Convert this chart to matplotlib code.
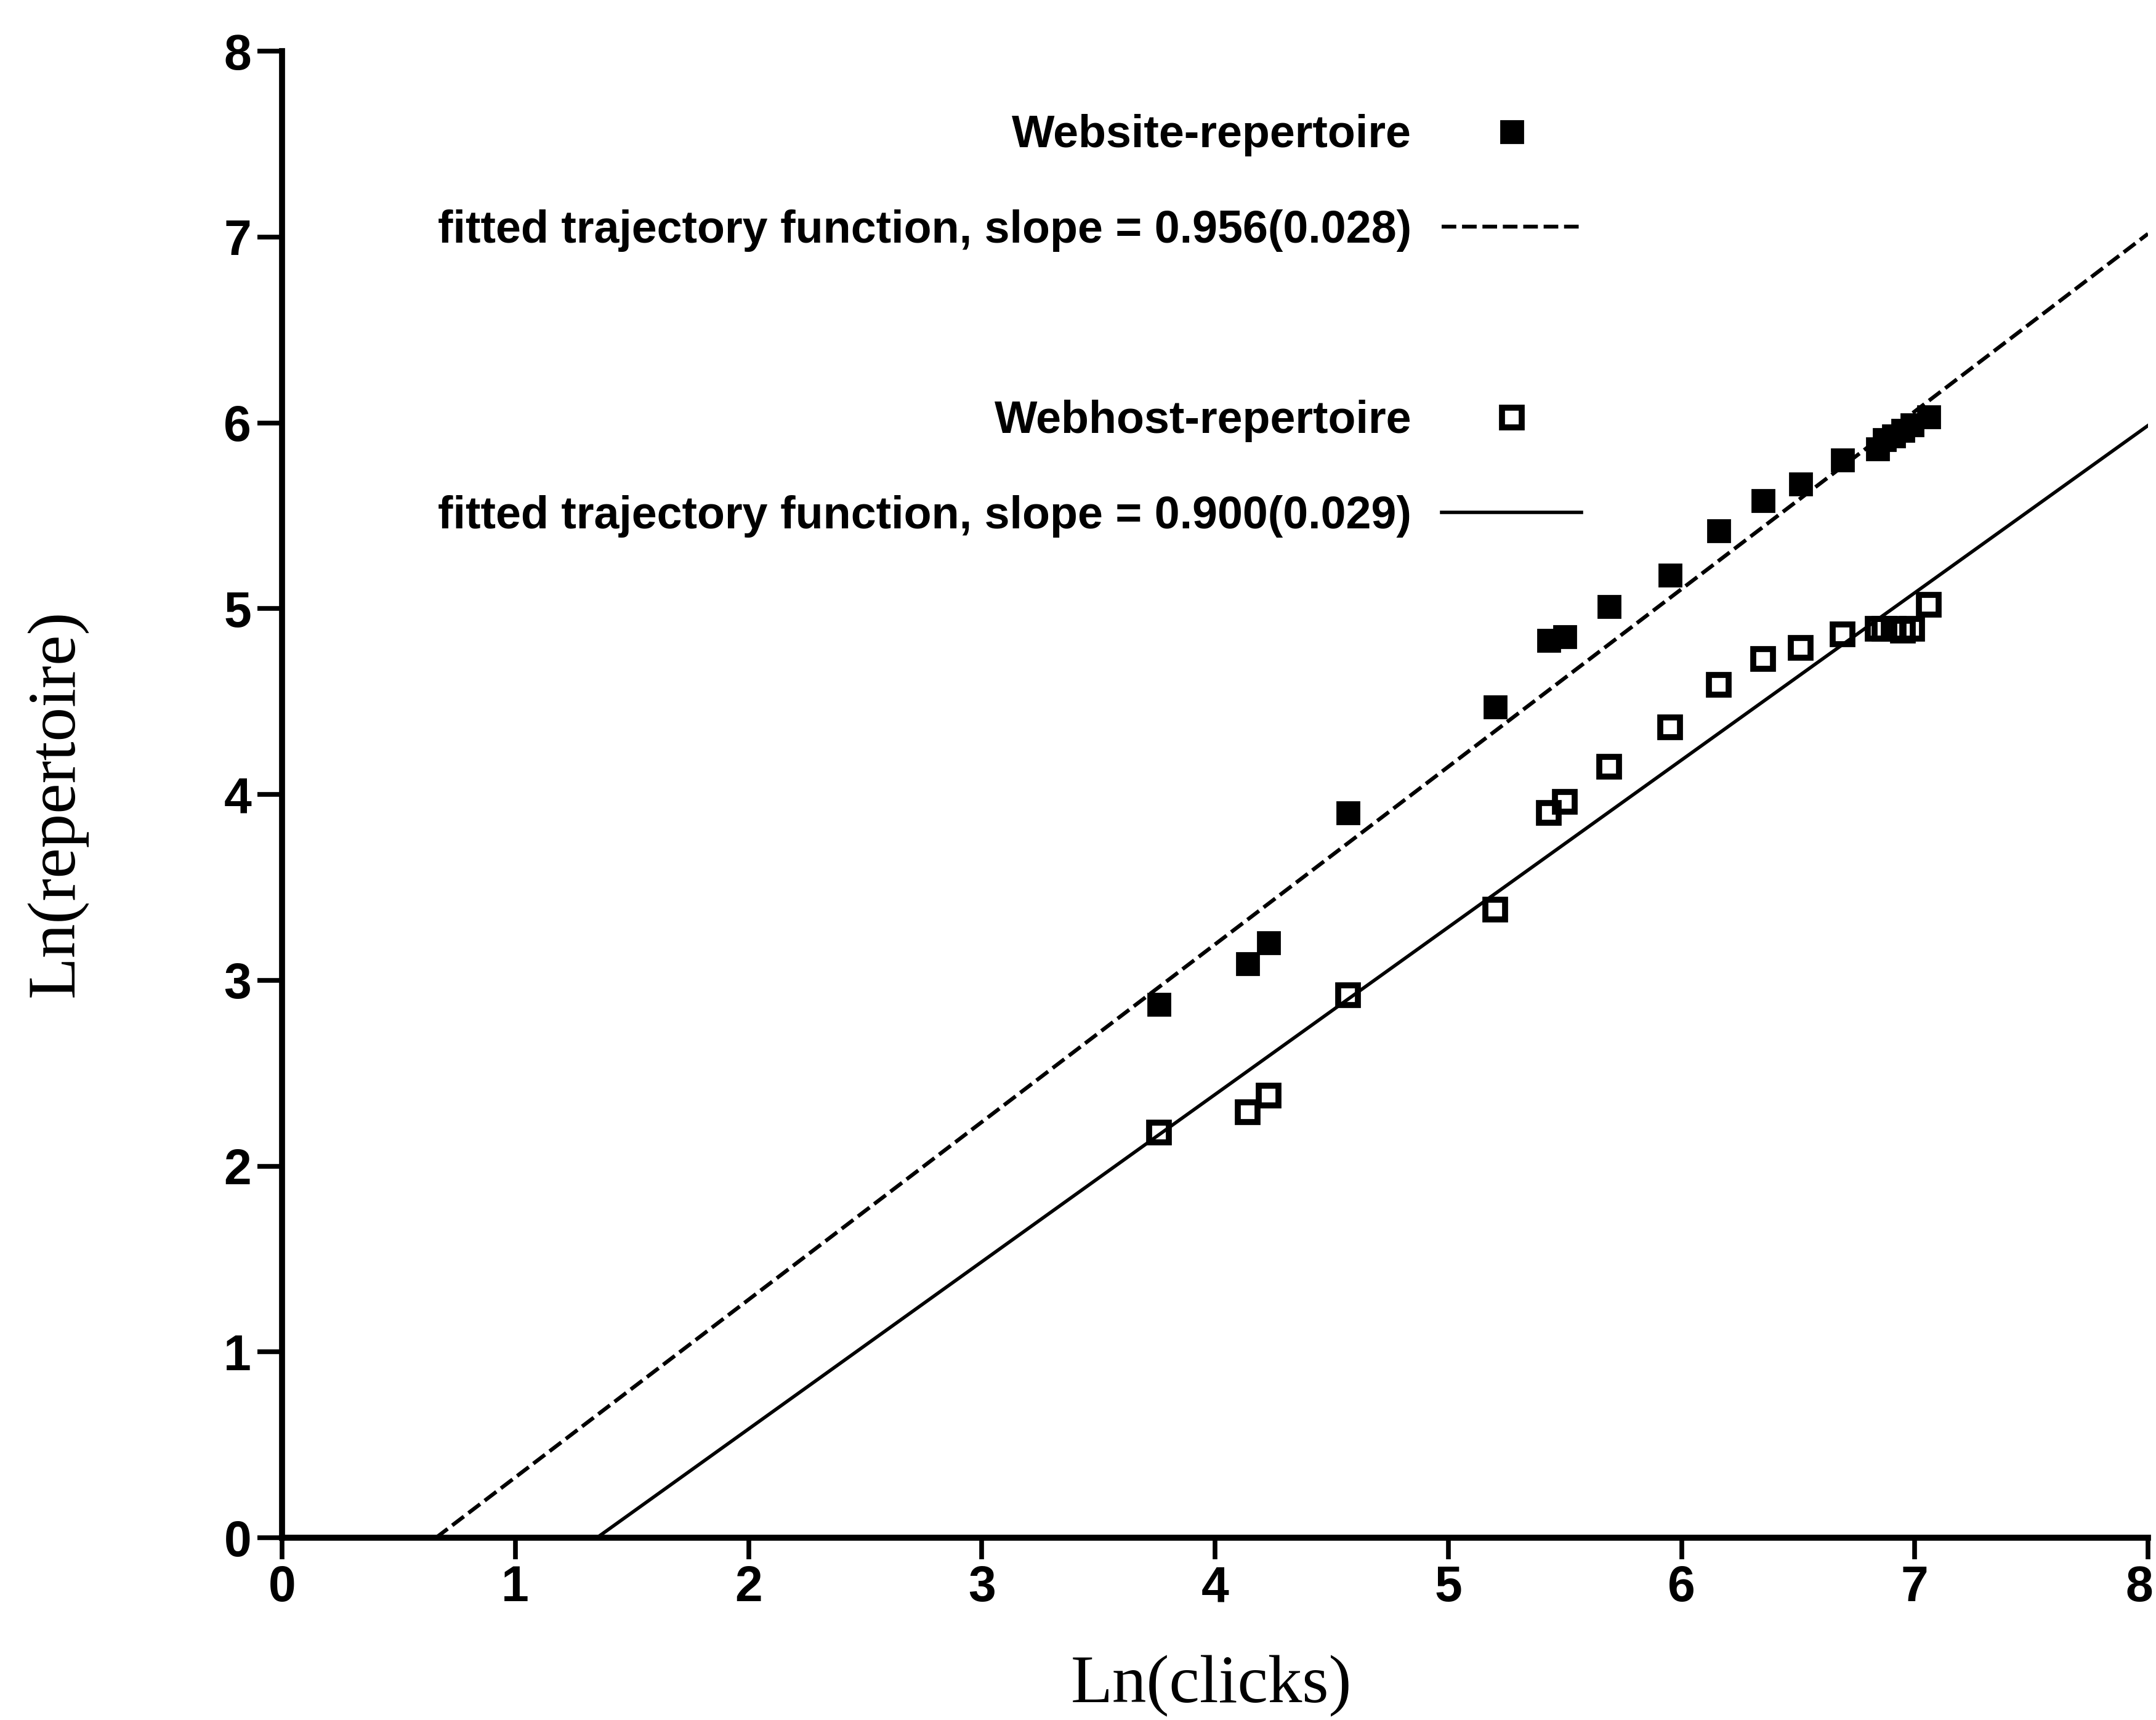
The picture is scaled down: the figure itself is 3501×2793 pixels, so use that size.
import numpy as np
import matplotlib
matplotlib.use("Agg")
import matplotlib.pyplot as plt
from matplotlib.transforms import ScaledTranslation

# Log-log repertoire growth: shared click axis for both series
ln_clicks = [3.76, 4.14, 4.23, 4.57, 5.20, 5.43, 5.50, 5.69, 5.95, 6.16,
             6.35, 6.51, 6.69, 6.84, 6.87, 6.91, 6.95, 6.99, 7.06]
website_rep = [2.87, 3.09, 3.20, 3.90, 4.47, 4.83, 4.85, 5.01, 5.18, 5.42,
               5.58, 5.67, 5.80, 5.86, 5.91, 5.93, 5.96, 5.99, 6.03]
webhost_rep = [2.18, 2.29, 2.38, 2.92, 3.38, 3.90, 3.96, 4.15, 4.36, 4.59,
               4.73, 4.79, 4.86, 4.89, 4.89, 4.89, 4.88, 4.89, 5.02]

# Fitted trajectory functions: slope (standard error) and intercept
website_slope, website_se, website_intercept = 0.956, 0.028, -0.631
webhost_slope, webhost_se, webhost_intercept = 0.900, 0.029, -1.215

ticks = list(range(0, 9))

W, H = 3501, 2793
fig = plt.figure(figsize=(W / 100, H / 100), dpi=100)
ax = fig.add_axes([458 / W, 1 - 2497 / H, 3030 / W, 2414 / H])

sans = "Liberation Sans"
serif = "Liberation Serif"

# data points
ws_pts, = ax.plot(ln_clicks, website_rep, ls="none", marker="s", ms=26,
                  mfc="black", mec="black", mew=2, zorder=3,
                  label="Website-repertoire")
wh_pts, = ax.plot(ln_clicks, webhost_rep, ls="none", marker="s", ms=23,
                  mfc="none", mec="black", mew=7, zorder=3,
                  label="Webhost-repertoire")

# fitted lines, from where they cross zero to the right edge
x_ws = np.array([-website_intercept / website_slope, 8.0])
ws_fit, = ax.plot(x_ws, website_slope * x_ws + website_intercept,
                  color="black", lw=4.5, dashes=(3.8, 1.5), zorder=2,
                  label=f"fitted trajectory function, slope = "
                        f"{website_slope:.3f}({website_se:.3f})")
x_wh = np.array([-webhost_intercept / webhost_slope, 8.0])
wh_fit, = ax.plot(x_wh, webhost_slope * x_wh + webhost_intercept,
                  color="black", lw=4.0, zorder=2,
                  label=f"fitted trajectory function, slope = "
                        f"{webhost_slope:.3f}({webhost_se:.3f})")

# axes styling
ax.set_xlim(0, 8)
ax.set_ylim(0, 8)
ax.set_xticks(ticks)
ax.set_yticks(ticks)
for s in ["top", "right"]:
    ax.spines[s].set_visible(False)
for s in ["left", "bottom"]:
    ax.spines[s].set_linewidth(7)
ax.tick_params(axis="y", length=29, width=5.5, pad=7, labelsize=58)
ax.tick_params(axis="x", length=25, width=5.5, pad=7, labelsize=58)
for lab in ax.get_xticklabels() + ax.get_yticklabels():
    lab.set_fontfamily(sans)
    lab.set_fontweight("bold")
# keep the last x tick label inside the figure edge
last = ax.get_xticklabels()[-1]
last.set_transform(last.get_transform()
                   + ScaledTranslation(-0.14, 0, fig.dpi_scale_trans))

ax.set_xlabel("Ln(clicks)", fontsize=80, family=serif)
ax.xaxis.set_label_coords(0.498, -0.111)
ax.xaxis.label.set_va("baseline")
ax.set_ylabel("Ln(repertoire)", fontsize=80, family=serif)
ax.yaxis.set_label_coords(-0.1205, 0.494)
ax.yaxis.label.set_va("center")

# legends: text on the left, right-aligned against the handle
leg_kw = dict(loc="center right", markerfirst=False, frameon=False,
              borderpad=0, borderaxespad=0, handlelength=3.08,
              handletextpad=0.67, labelspacing=1.16, numpoints=1,
              prop={"family": sans, "weight": "bold", "size": 53})
leg1 = ax.legend(handles=[ws_pts, ws_fit], bbox_to_anchor=(0.6964, 0.9113),
                 **leg_kw)
ax.add_artist(leg1)
ax.legend(handles=[wh_pts, wh_fit], bbox_to_anchor=(0.6964, 0.7191), **leg_kw)

fig.savefig("out.png", dpi=100)
